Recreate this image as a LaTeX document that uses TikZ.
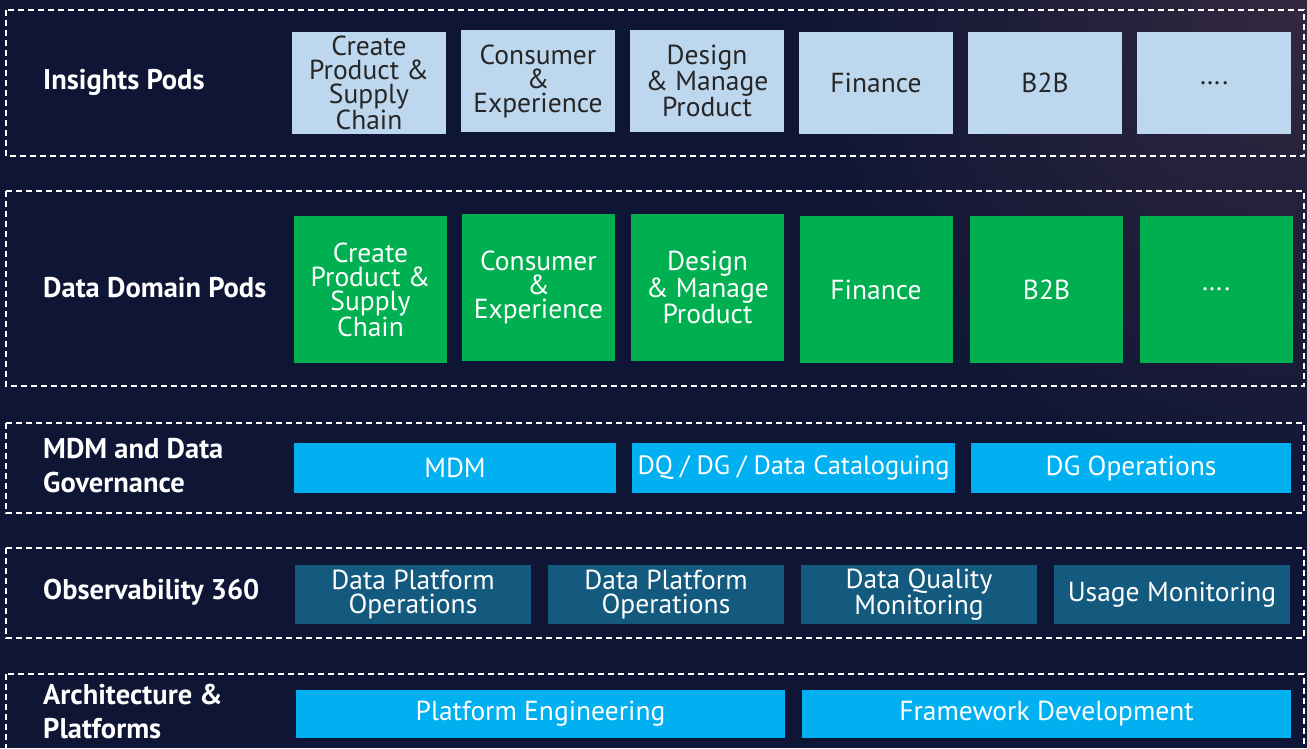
\documentclass[tikz,border=0pt]{standalone}
\usepackage{fontspec}
\setmainfont{PT Sans}
\definecolor{bg}{HTML}{0F1535}
\definecolor{glow}{HTML}{33293F}
\definecolor{lightpod}{HTML}{BDD7EE}
\definecolor{podtext}{HTML}{262626}
\definecolor{greenpod}{HTML}{00B050}
\definecolor{cyanbox}{HTML}{00B0F0}
\definecolor{tealbox}{HTML}{145A7E}
\begin{document}
\begin{tikzpicture}[x=1pt,y=-1pt,
  rowframe/.style={draw=white, line width=1.8pt, dash pattern=on 6pt off 4pt},
  rowlbl/.style={text=white, font=\bfseries\fontsize{28.5}{34}\selectfont, anchor=west, align=left, inner sep=0pt},
  boxtxt/.style={inner sep=0pt, align=center, font=\fontsize{27.5}{24}\selectfont},
  insightpod/.style={boxtxt, fill=lightpod, text=podtext, minimum width=154pt, minimum height=102pt},
  domainpod/.style={boxtxt, fill=greenpod, text=white, minimum width=153pt, minimum height=147pt},
  govbox/.style={boxtxt, fill=cyanbox, text=white, minimum height=50pt},
  obsbox/.style={boxtxt, fill=tealbox, text=white, minimum width=236pt, minimum height=59pt},
  archbox/.style={boxtxt, fill=cyanbox, text=white, minimum width=489pt, minimum height=48pt}]
\useasboundingbox (0,0) rectangle (1307,748);
\begin{scope}
\clip (0,0) rectangle (1307,748);
\fill[bg] (0,0) rectangle (1307,748);
\shade[inner color=glow, outer color=bg] (1307,0) circle (520);
\end{scope}
% rows
\draw[rowframe] (6,10) rectangle (1304,156);
\draw[rowframe] (6,191) rectangle (1304,386);
\draw[rowframe] (6,423) rectangle (1304,513);
\draw[rowframe] (6,548) rectangle (1304,638);
\begin{scope}
\clip (0,0) rectangle (1307,748);
\draw[rowframe] (6,674) rectangle (1304,770);
\end{scope}
% labels
\node[rowlbl] (l1) at (43,82) {Insights Pods};
\node[rowlbl] (l2) at (43,288) {Data Domain Pods};
\node[rowlbl] (l3) at (43,466) {MDM and Data\\Governance};
\node[rowlbl] (l4) at (43,592) {Observability 360};
\node[rowlbl] (l5) at (43,712) {Architecture \&\\Platforms};
% insights pods
\node[insightpod] (i1) at (369,83) {Create\\Product \&\\Supply\\Chain};
\node[insightpod] (i2) at (538,81) {Consumer\\\&\\Experience};
\node[insightpod] (i3) at (707,81) {Design\\\& Manage\\Product};
\node[insightpod] (i4) at (876,83) {Finance};
\node[insightpod] (i5) at (1045,83) {B2B};
\node[insightpod] (i6) at (1214,83) {….};
% data domain pods
\node[domainpod] (d1) at (370.5,289.5) {Create\\Product \&\\Supply\\Chain};
\node[domainpod] (d2) at (538.5,287.5) {Consumer\\\&\\Experience};
\node[domainpod] (d3) at (707.5,287.5) {Design\\\& Manage\\Product};
\node[domainpod] (d4) at (876,289.5) {Finance};
\node[domainpod] (d5) at (1046.5,289.5) {B2B};
\node[domainpod] (d6) at (1216,289.5) {….};
% governance
\node[govbox, minimum width=322pt] (g1) at (455,468) {MDM};
\node[govbox, minimum width=323pt, font=\fontsize{26.5}{24}\selectfont] (g2) at (793.5,468) {DQ / DG / Data Cataloguing};
\node[govbox, minimum width=320pt] (g3) at (1131,468) {DG Operations};
% observability
\node[obsbox] (o1) at (413,594.5) {Data Platform\\Operations};
\node[obsbox] (o2) at (666,594.5) {Data Platform\\Operations};
\node[obsbox] (o3) at (919,594.5) {Data Quality\\Monitoring};
\node[obsbox] (o4) at (1172,594.5) {Usage Monitoring};
% architecture
\node[archbox] (a1) at (540.5,714) {Platform Engineering};
\node[archbox] (a2) at (1046.5,714) {Framework Development};
\end{tikzpicture}
\end{document}
